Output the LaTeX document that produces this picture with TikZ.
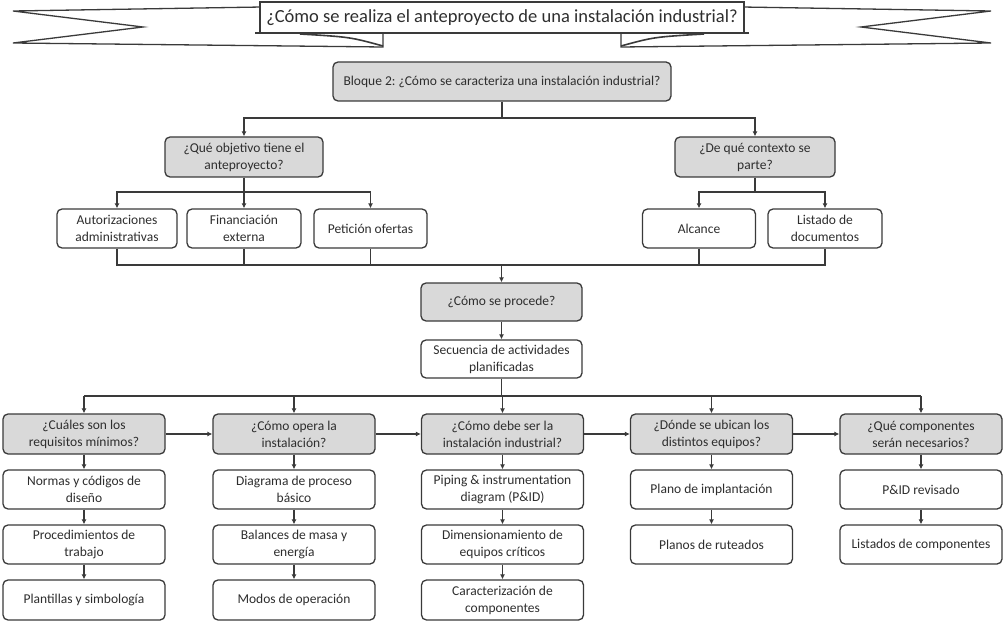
\documentclass[tikz,border=0pt]{standalone}
\usepackage{fontspec}
\setmainfont{Carlito}
\usetikzlibrary{arrows.meta}
\definecolor{boxgray}{HTML}{D9D9D9}
\definecolor{linec}{HTML}{3A3A3A}
\definecolor{txt}{HTML}{2E2E2E}
\frenchspacing
\begin{document}
\begin{tikzpicture}[x=1pt,y=-1pt,
  box/.style={draw=linec, line width=1.3pt, rounded corners=5pt, align=center, inner sep=1pt,
              font=\fontsize{13.5}{17}\selectfont, text=txt},
  gbox/.style={box, fill=boxgray},
  wbox/.style={box, fill=white},
  rowbox/.style={minimum width=162pt, minimum height=40pt},
  subbox/.style={minimum width=162pt, minimum height=39pt},
  arr/.style={draw=linec, line width=1.2pt, -{Latex[length=5pt,width=5pt]}},
  ln/.style={draw=linec, line width=1.2pt},
  ribbon/.style={draw=linec, line width=1.3pt, fill=white, line join=miter},
]
\useasboundingbox (0,0) rectangle (1005,623);

% ---------- title ribbon ----------
\draw[ribbon] (262,7) -- (13,11) -- (143,27) -- (13,43) -- (383,47) -- (383,33) -- cycle;
\draw[ribbon] (742,7) -- (991,11) -- (861,27) -- (991,43) -- (621,47) -- (621,33) -- cycle;
\draw[ln] (255,33) -- (383,33);
\draw[ln] (749,33) -- (621,33);
\draw[line width=1.6pt, linec] (300,34) .. controls (350,37) .. (383,46);
\draw[line width=1.6pt, linec] (704,34) .. controls (654,37) .. (621,46);
\node[draw=linec, line width=1.3pt, fill=white, minimum width=484pt, minimum height=31pt,
      inner sep=0pt, font=\fontsize{18.5}{22}\selectfont, text=txt] (title) at (502,17.5)
      {¿Cómo se realiza el anteproyecto de una instalación industrial?};

% ---------- upper nodes ----------
\node[gbox, minimum width=338pt, minimum height=39pt] (bloque) at (502,81.5)
  {Bloque 2: ¿Cómo se caracteriza una instalación industrial?};
\node[gbox, minimum width=158pt, minimum height=40pt] (que) at (244,157)
  {¿Qué objetivo tiene el\\anteproyecto?};
\node[gbox, minimum width=160pt, minimum height=40pt] (deque) at (755,157)
  {¿De qué contexto se\\parte?};
\node[wbox, minimum width=120pt, minimum height=39pt] (autor) at (117,228.5)
  {Autorizaciones\\administrativas};
\node[wbox, minimum width=114pt, minimum height=39pt] (finan) at (244,228.5)
  {Financiación\\externa};
\node[wbox, minimum width=113pt, minimum height=39pt] (petic) at (370.5,228.5)
  {Petición ofertas};
\node[wbox, minimum width=113pt, minimum height=39pt] (alc) at (699,228.5)
  {Alcance};
\node[wbox, minimum width=114pt, minimum height=39pt] (lis) at (825,228.5)
  {Listado de\\documentos};
\node[gbox, minimum width=161pt, minimum height=38pt] (proc) at (501.5,302)
  {¿Cómo se procede?};
\node[wbox, minimum width=161pt, minimum height=38pt] (sec) at (501.5,359)
  {Secuencia de actividades\\planificadas};

% ---------- row of questions ----------
\node[gbox, rowbox] (r1) at (84,434) {¿Cuáles son los\\requisitos mínimos?};
\node[gbox, rowbox] (r2) at (294,434) {¿Cómo opera la\\instalación?};
\node[gbox, rowbox] (r3) at (502.5,434) {¿Cómo debe ser la\\instalación industrial?};
\node[gbox, rowbox] (r4) at (711.5,434) {¿Dónde se ubican los\\distintos equipos?};
\node[gbox, rowbox] (r5) at (921,434) {¿Qué componentes\\serán necesarios?};

\node[wbox, subbox] (a1) at (84,489.5) {Normas y códigos de\\diseño};
\node[wbox, subbox] (a2) at (294,489.5) {Diagrama de proceso\\básico};
\node[wbox, subbox] (a3) at (502.5,489.5) {Piping \& instrumentation\\diagram (P\&ID)};
\node[wbox, subbox] (a4) at (711.5,489.5) {Plano de implantación};
\node[wbox, subbox] (a5) at (921,489.5) {P\&ID revisado};

\node[wbox, subbox] (b1) at (84,544.5) {Procedimientos de\\trabajo};
\node[wbox, subbox] (b2) at (294,544.5) {Balances de masa y\\energía};
\node[wbox, subbox] (b3) at (502.5,544.5) {Dimensionamiento de\\equipos críticos};
\node[wbox, subbox] (b4) at (711.5,544.5) {Planos de ruteados};
\node[wbox, subbox] (b5) at (921,544.5) {Listados de componentes};

\node[wbox, rowbox] (c1) at (84,600) {Plantillas y simbología};
\node[wbox, rowbox] (c2) at (294,600) {Modos de operación};
\node[wbox, rowbox] (c3) at (502.5,600) {Caracterización de\\componentes};

% ---------- levels ----------
\coordinate (L1) at (0,118);
\coordinate (L2) at (0,192);
\coordinate (L3) at (0,265);
\coordinate (L4) at (0,396);

% ---------- connectors ----------
\draw[ln] (bloque.south) -- (bloque.south |- L1);
\draw[arr] (bloque.south |- L1) -| (que.north);
\draw[arr] (bloque.south |- L1) -| (deque.north);

\draw[ln] (que.south) -- (que.south |- L2);
\draw[arr] (que.south |- L2) -| (autor.north);
\draw[arr] (que.south |- L2) -- (finan.north);
\draw[arr] (que.south |- L2) -| (petic.north);

\draw[ln] (deque.south) -- (deque.south |- L2);
\draw[arr] (deque.south |- L2) -| (alc.north);
\draw[arr] (deque.south |- L2) -| (lis.north);

\draw[ln] (autor.south) -- (autor.south |- L3) -- (lis.south |- L3) -- (lis.south);
\draw[ln] (finan.south) -- (finan.south |- L3);
\draw[ln] (petic.south) -- (petic.south |- L3);
\draw[ln] (alc.south) -- (alc.south |- L3);
\draw[arr] (proc.north |- L3) -- (proc.north);
\draw[arr] (proc) -- (sec);

\draw[ln] (sec.south) -- (sec.south |- L4);
\draw[ln] (r1.north |- L4) -- (r5.north |- L4);
\foreach \r in {r1,r2,r3,r4,r5} {\draw[arr] (\r.north |- L4) -- (\r.north);}

\draw[arr] (r1) -- (r2);
\draw[arr] (r2) -- (r3);
\draw[arr] (r3) -- (r4);
\draw[arr] (r4) -- (r5);

\draw[arr] (r1) -- (a1); \draw[arr] (a1) -- (b1); \draw[arr] (b1) -- (c1);
\draw[arr] (r2) -- (a2); \draw[arr] (a2) -- (b2); \draw[arr] (b2) -- (c2);
\draw[arr] (r3) -- (a3); \draw[arr] (a3) -- (b3); \draw[arr] (b3) -- (c3);
\draw[arr] (r4) -- (a4); \draw[arr] (a4) -- (b4);
\draw[arr] (r5) -- (a5); \draw[arr] (a5) -- (b5);
\end{tikzpicture}
\end{document}
